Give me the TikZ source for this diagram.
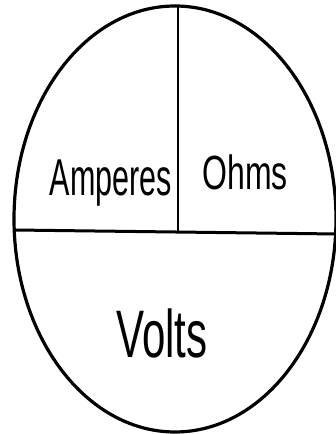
\documentclass[tikz,border=0pt]{standalone}
\usepackage{fontspec}
\setmainfont{Liberation Sans}
\usetikzlibrary{shapes.geometric}
\begin{document}
\begin{tikzpicture}[x=1pt,y=1pt,
  outline/.style={draw=black, line width=3.2pt, ellipse, minimum width=322pt, minimum height=426pt, inner sep=0pt},
  divider/.style={draw=black, line width=3pt},
  label/.style={inner sep=0pt}]
\useasboundingbox (0,0) rectangle (336,434);
\fill[white] (0,0) rectangle (336,434);
\node[outline] (oval) at (175,215) {};
\coordinate (top) at (178,428);
\coordinate (mid) at (178,202);
\coordinate (left) at (14,204);
\coordinate (right) at (337,200);
\draw[divider] (left) -- (right);
\draw[divider, line width=2.5pt] (top) -- (mid);
\node[label] (amp) at (111,251) {\scalebox{1}[1.7]{\fontsize{30.5}{32}\selectfont Amperes}};
\node[label] (ohm) at (245,262) {\scalebox{1}[1.5]{\fontsize{32}{34}\selectfont Ohms}};
\node[label] (volt) at (162,101) {\scalebox{1}[1.6]{\fontsize{42}{44}\selectfont Volts}};
\end{tikzpicture}
\end{document}
